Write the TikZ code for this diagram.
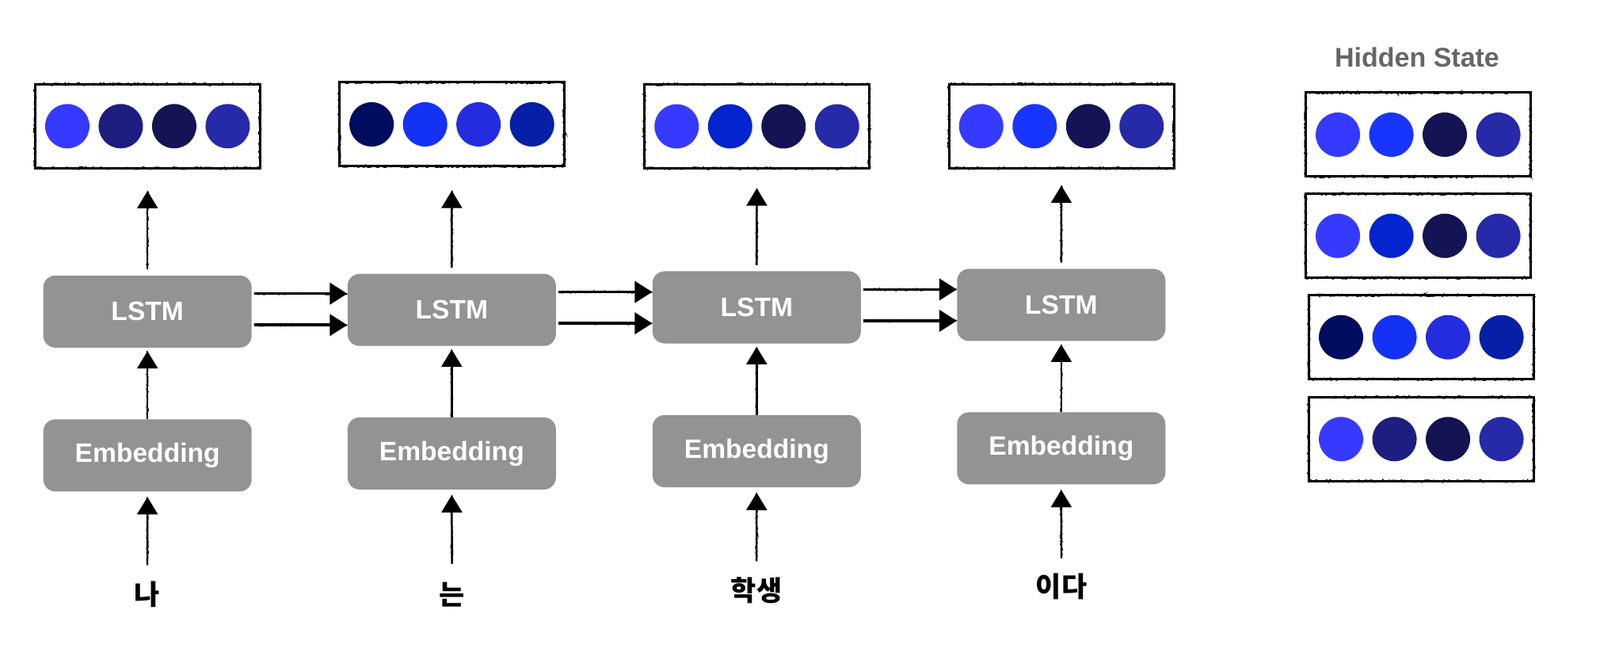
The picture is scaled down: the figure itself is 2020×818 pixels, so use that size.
\documentclass[tikz,border=0pt]{standalone}
\usepackage{fontspec}
\setmainfont{Liberation Sans}
\newfontfamily\kr{Noto Sans CJK KR}
\usetikzlibrary{arrows.meta,decorations.pathmorphing,calc}
\definecolor{cA}{HTML}{363AFF}
\definecolor{cB}{HTML}{1C1E80}
\definecolor{cC}{HTML}{141454}
\definecolor{cD}{HTML}{2629A8}
\definecolor{cE}{HTML}{000C5E}
\definecolor{cF}{HTML}{1432F6}
\definecolor{cG}{HTML}{242CE0}
\definecolor{cH}{HTML}{0520A6}
\definecolor{cI}{HTML}{0324CE}
\definecolor{cJ}{HTML}{1834FF}
\definecolor{boxgray}{HTML}{939393}
\definecolor{titlegray}{HTML}{666666}
\tikzset{
  rough/.style={postaction={draw, -, line width=#1, decorate,
      decoration={random steps, segment length=1.1pt, amplitude=0.7pt}}},
  blk/.style={rectangle, rounded corners=7.5pt, fill=boxgray, text=white,
    font=\bfseries\fontsize{16.8}{18}\selectfont, minimum width=131.5pt,
    minimum height=45.5pt, inner sep=0pt},
  vec/.style={rectangle, draw=black, line width=1.5pt, minimum width=142pt,
    minimum height=53pt, inner sep=0pt, rough=0.9pt},
  dot/.style={circle, minimum size=28pt, inner sep=0pt},
  varr/.style={-{Triangle[length=11pt,width=13pt]}, line width=1.2pt, rough=0.6pt},
  harr/.style={-{Triangle[length=11pt,width=13.5pt]}, line width=1.8pt, rough=0.8pt},
  word/.style={font=\kr\bfseries\fontsize{17.5}{19}\selectfont, inner sep=0pt},
}
\begin{document}
\begin{tikzpicture}[x=0.5pt,y=-0.5pt]
\useasboundingbox (0,0) rectangle (2020,818);

% output vectors
\node[vec] (v1) at (186.2,159.3) {};
\node[vec] (v2) at (570.4,157) {};
\node[vec] (v3) at (955.5,159.5) {};
\node[vec] (v4) at (1340,159.3) {};
\foreach \c [count=\i] in {cA,cB,cC,cD}
  \node[dot,fill=\c] (v1d\i) at ($(v1)+(-168.75+67.5*\i,0)$) {};
\foreach \c [count=\i] in {cE,cF,cG,cH}
  \node[dot,fill=\c] (v2d\i) at ($(v2)+(-168.75+67.5*\i,0)$) {};
\foreach \c [count=\i] in {cA,cI,cC,cD}
  \node[dot,fill=\c] (v3d\i) at ($(v3)+(-168.75+67.5*\i,0)$) {};
\foreach \c [count=\i] in {cA,cJ,cC,cD}
  \node[dot,fill=\c] (v4d\i) at ($(v4)+(-168.75+67.5*\i,0)$) {};

% LSTM blocks
\node[blk] (l1) at (186.2,393.3) {LSTM};
\node[blk] (l2) at (570.3,391.2) {LSTM};
\node[blk] (l3) at (955.3,388) {LSTM};
\node[blk] (l4) at (1339.8,384.9) {LSTM};

% Embedding blocks
\node[blk] (e1) at (186.2,574.9) {Embedding};
\node[blk] (e2) at (570.3,572.4) {Embedding};
\node[blk] (e3) at (955.3,569.5) {Embedding};
\node[blk] (e4) at (1339.8,565.9) {Embedding};

% words
\node[word] (w1) at (186,750.7) {나};
\node[word] (w2) at (570.7,750.7) {는};
\node[word] (w3) at (955,745.7) {학생};
\node[word] (w4) at (1340,740.7) {이다};
\coordinate (i1) at (186,713.3);
\coordinate (i2) at (570.7,711.7);
\coordinate (i3) at (955.2,708.3);
\coordinate (i4) at (1340,704.7);

% vertical arrows
\foreach \i/\g in {1/13.6,2/14.6,3/11.8,4/10.2} {
  \draw[varr] ([yshift=3.8pt]l\i.north) -- ([yshift=-\g pt]v\i.south);
  \draw[varr] (e\i.north) -- ([yshift=-2pt]l\i.south);
  \draw[varr] (i\i) -- ([yshift=-3.3pt]e\i.south);
}

% horizontal arrows
\foreach \a/\b in {1/2,2/3,3/4} {
  \draw[harr] ([xshift=1.5pt,yshift=11.3pt]l\a.east) -- ([yshift=11.3pt]l\a.east -| l\b.west);
  \draw[harr] ([xshift=1.5pt,yshift=-8.5pt]l\a.east) -- ([yshift=-8.5pt]l\a.east -| l\b.west);
}

% hidden state panel
\node[font=\bfseries\fontsize{17}{19}\selectfont, text=titlegray] (hs) at (1789,72.7) {Hidden State};
\node[vec] (h1) at (1790.3,170) {};
\node[vec] (h2) at (1790.3,297.7) {};
\node[vec] (h3) at (1794.3,425.7) {};
\node[vec] (h4) at (1794.3,554.3) {};
\foreach \c [count=\i] in {cA,cJ,cC,cD}
  \node[dot,fill=\c] (h1d\i) at ($(h1)+(-168.75+67.5*\i,0)$) {};
\foreach \c [count=\i] in {cA,cI,cC,cD}
  \node[dot,fill=\c] (h2d\i) at ($(h2)+(-168.75+67.5*\i,0)$) {};
\foreach \c [count=\i] in {cE,cF,cG,cH}
  \node[dot,fill=\c] (h3d\i) at ($(h3)+(-168.75+67.5*\i,0)$) {};
\foreach \c [count=\i] in {cA,cB,cC,cD}
  \node[dot,fill=\c] (h4d\i) at ($(h4)+(-168.75+67.5*\i,0)$) {};
\end{tikzpicture}
\end{document}
